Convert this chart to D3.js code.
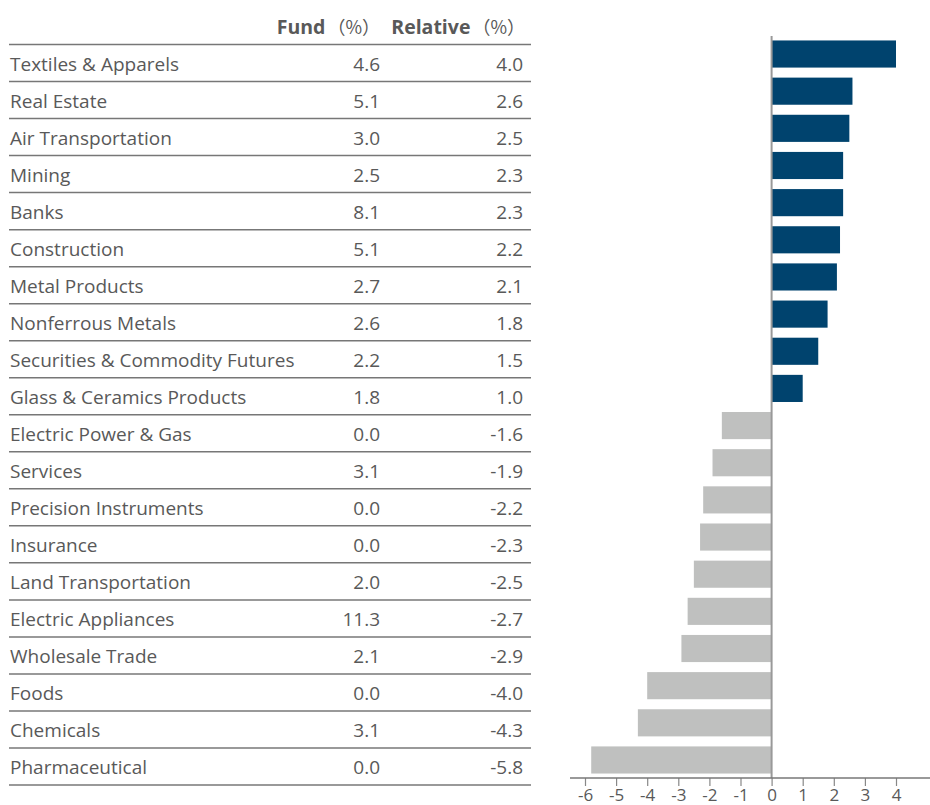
<html>
<head>
<meta charset="utf-8">
<title>Sector allocation</title>
<script src="https://d3js.org/d3.v7.min.js"></script>
<style>
  body { margin: 0; background: #fff; }
  text { font-family: "Open Sans", sans-serif; fill: #595959; }
</style>
</head>
<body>
<script>
var categories = ["Textiles & Apparels","Real Estate","Air Transportation","Mining","Banks",
  "Construction","Metal Products","Nonferrous Metals","Securities & Commodity Futures",
  "Glass & Ceramics Products","Electric Power & Gas","Services","Precision Instruments",
  "Insurance","Land Transportation","Electric Appliances","Wholesale Trade","Foods",
  "Chemicals","Pharmaceutical"];
var fund = [4.6,5.1,3.0,2.5,8.1,5.1,2.7,2.6,2.2,1.8,0.0,3.1,0.0,0.0,2.0,11.3,2.1,0.0,3.1,0.0];
var relative = [4.0,2.6,2.5,2.3,2.3,2.2,2.1,1.8,1.5,1.0,-1.6,-1.9,-2.2,-2.3,-2.5,-2.7,-2.9,-4.0,-4.3,-5.8];
var tickValues = [-6,-5,-4,-3,-2,-1,0,1,2,3,4];

var width = 930, height = 805;
var svg = d3.select("body").append("svg")
    .attr("width", width)
    .attr("height", height);

// number format with a plain hyphen, like the original
var fmt = v => v.toFixed(1);

// table
var rowY = d3.scaleBand().domain(categories).range([44.5, 785]);
var fs = 19;

var head = svg.append("g");
head.append("text").attr("x", 380).attr("y", 34).attr("text-anchor", "end")
    .attr("font-size", fs)
    .html('<tspan font-weight="bold" font-size="19.5">Fund</tspan><tspan font-family="Noto Sans CJK SC" font-size="18" dx="2">（%）</tspan>');
head.append("text").attr("x", 525).attr("y", 34).attr("text-anchor", "end")
    .attr("font-size", fs)
    .html('<tspan font-weight="bold" font-size="19.5">Relative</tspan><tspan font-family="Noto Sans CJK SC" font-size="18" dx="2">（%）</tspan>');

var rows = svg.append("g").selectAll("g")
    .data(categories)
    .enter().append("g")
    .attr("transform", d => `translate(0,${rowY(d)})`);

rows.append("line")
    .attr("x1", 9).attr("x2", 531).attr("y1", 0).attr("y2", 0)
    .attr("stroke", "#777").attr("stroke-width", 1.5);

rows.append("text").attr("x", 10).attr("y", rowY.bandwidth()/2).attr("dy", "0.4em")
    .attr("font-size", fs).text(d => d);
rows.append("text").attr("x", 380).attr("y", rowY.bandwidth()/2).attr("dy", "0.4em")
    .attr("text-anchor", "end").attr("font-size", fs)
    .text((d,i) => fmt(fund[i]));
rows.append("text").attr("x", 523).attr("y", rowY.bandwidth()/2).attr("dy", "0.4em")
    .attr("text-anchor", "end").attr("font-size", fs)
    .text((d,i) => fmt(relative[i]));

svg.append("line")
    .attr("x1", 9).attr("x2", 531)
    .attr("y1", rowY.range()[1]).attr("y2", rowY.range()[1])
    .attr("stroke", "#777").attr("stroke-width", 1.5);

// bar chart
var x = d3.scaleLinear().domain([-6, 4]).range([585, 896]);
var y = d3.scaleBand().domain(categories).range([36, 778])
    .paddingInner(0.27).paddingOuter(0.12);

svg.append("g").selectAll("rect")
    .data(categories)
    .enter().append("rect")
    .attr("x", (d,i) => x(Math.min(0, relative[i])))
    .attr("width", (d,i) => Math.abs(x(relative[i]) - x(0)))
    .attr("y", d => y(d))
    .attr("height", y.bandwidth())
    .attr("fill", (d,i) => relative[i] >= 0 ? "#00436e" : "#bfc0bf");

svg.append("line")
    .attr("x1", x(0)).attr("x2", x(0)).attr("y1", 36).attr("y2", 778)
    .attr("stroke", "#999").attr("stroke-width", 2);

var axis = svg.append("g")
    .attr("transform", "translate(0,778)")
    .call(d3.axisBottom(x).tickValues(tickValues).tickSize(8).tickSizeOuter(0).tickFormat(d => String(d)));
axis.select(".domain").remove();
axis.selectAll(".tick line").attr("stroke", "#888").attr("stroke-width", 1.2);
axis.selectAll(".tick text").attr("font-size", 17).attr("y", 11).attr("fill", "#595959")
    .style("font-family", "Open Sans, sans-serif");
axis.append("line").attr("x1", 570).attr("x2", 930).attr("y1", 0).attr("y2", 0)
    .attr("stroke", "#777").attr("stroke-width", 1.5);
</script>
</body>
</html>
